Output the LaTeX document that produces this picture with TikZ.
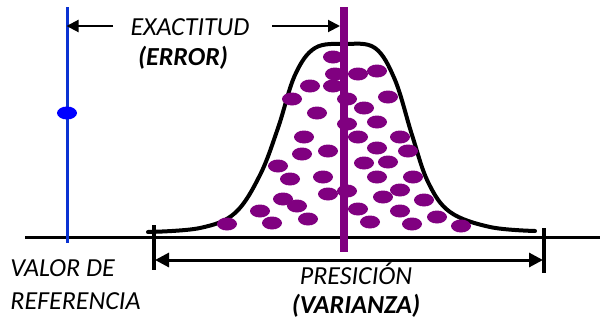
\documentclass[tikz,border=0pt]{standalone}
\usepackage{fontspec}
\setmainfont{Carlito}
\usetikzlibrary{arrows.meta}
\definecolor{morado}{RGB}{128,0,128}
\definecolor{azulref}{RGB}{10,50,210}
\definecolor{azulpunto}{RGB}{0,0,255}
\tikzset{
  etiqueta/.style={font=\itshape\fontsize{13}{15}\selectfont, inner sep=0pt, anchor=base},
  negrita/.style={etiqueta, font=\bfseries\itshape\fontsize{13}{15}\selectfont},
  punto/.style={fill=morado, draw=none},
  flechita/.style={line width=1pt, -{Triangle[length=6pt,width=6pt]}},
  flechota/.style={line width=1.5pt, {Triangle[length=7pt,width=7pt]}-{Triangle[length=7pt,width=7pt]}},
}
\begin{document}
\begin{tikzpicture}[x=0.5pt,y=-0.5pt]
  \useasboundingbox (0,0) rectangle (600,322);
  % Eje
  \coordinate (ejeI) at (25,237);
  \coordinate (ejeD) at (600,237);
  \draw[line width=1.5pt] (ejeI) -- (ejeD);
  % Valor de referencia
  \coordinate (refA) at (67,7);
  \coordinate (refB) at (67,243);
  \draw[azulref, line width=1.5pt] (refA) -- (refB);
  \fill[azulpunto] (67,113) ellipse [x radius=10, y radius=6.5];
  % Curva
  \draw[line width=2pt, line cap=round] plot[smooth, tension=0.6] coordinates {
    (148,232) (200,228) (235,213) (260,175) (278,128) (295,75) (315,48)
    (345,44) (375,48) (395,80) (412,135) (428,182) (450,212) (490,227) (535,231)};
  % Puntos
  \foreach \x/\y in {333/57, 335/74, 358/74, 377/71, 310/86, 333/86, 292/99,
      347/99, 388/97, 317/113, 364/108, 347/124, 377/122, 304/137, 358/137,
      400/137, 328/151, 377/148, 408/151, 302/154, 364/163, 388/162, 278/166,
      323/177, 377/177, 413/177, 290/179, 347/191, 328/194, 400/190, 383/197,
      283/199, 297/206, 424/200, 260/211, 358/209, 400/211, 308/219, 272/223,
      370/222, 412/224, 437/217, 227/224, 461/226}
    \fill[punto] (\x,\y) ellipse [x radius=10, y radius=6.5];
  % Media
  \coordinate (medA) at (344,7);
  \coordinate (medB) at (344,252);
  \draw[morado, line width=4pt] (medA) -- (medB);
  % Exactitud
  \node[etiqueta] (exactitud) at (190,35) {EXACTITUD};
  \node[negrita] (error) at (183,65) {(ERROR)};
  \coordinate (exI) at (113,26);
  \coordinate (exD) at (272,26);
  \draw[flechita] (exI) -- (66.5,26);
  \draw[flechita] (exD) -- (340,26);
  % Presicion
  \coordinate (preI) at (154,225);
  \coordinate (preIb) at (154,270);
  \coordinate (preD) at (544,228);
  \coordinate (preDb) at (544,273);
  \draw[line width=2pt] (preI) -- (preIb);
  \draw[line width=2pt] (preD) -- (preDb);
  \draw[flechota] (155,260) -- (543,260);
  \node[etiqueta] (presicion) at (356,284) {PRESICIÓN};
  \node[negrita] (varianza) at (356,313) {(VARIANZA)};
  % Etiqueta valor
  \node[etiqueta, anchor=base west] (valor) at (10,276) {VALOR DE};
  \node[etiqueta, anchor=base west] (referencia) at (10,309) {REFERENCIA};
\end{tikzpicture}
\end{document}
